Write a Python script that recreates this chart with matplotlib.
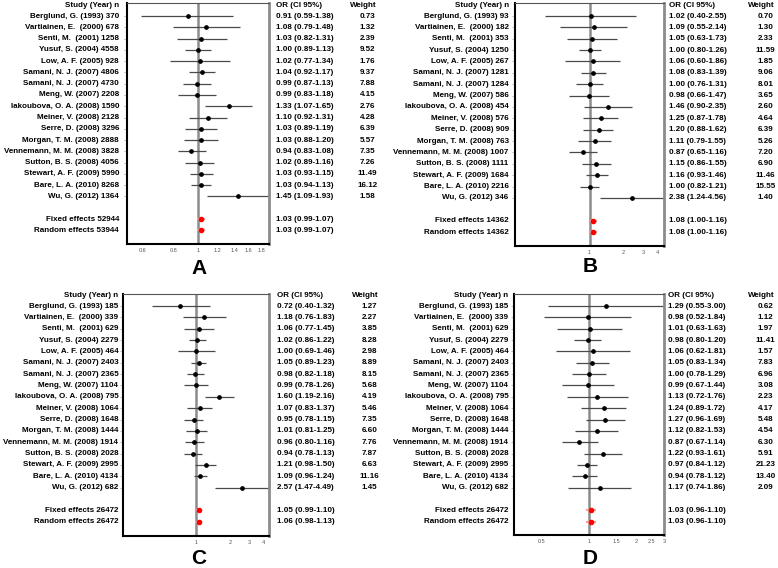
import matplotlib
matplotlib.use('Agg')
import matplotlib.pyplot as plt
import matplotlib.transforms as mtrans
import numpy as np

plt.rcParams['font.family'] = ['Liberation Sans', 'DejaVu Sans']

studies = ['Berglund, G. (1993)', 'Vartiainen, E.  (2000)', 'Senti, M.  (2001)',
           'Yusuf, S. (2004)', 'Low, A. F. (2005)', 'Samani, N. J. (2007)',
           'Samani, N. J. (2007)', 'Meng, W. (2007)', 'Iakoubova, O. A. (2008)',
           'Meiner, V. (2008)', 'Serre, D. (2008)', 'Morgan, T. M. (2008)',
           'Vennemann, M. M. (2008)', 'Sutton, B. S. (2008)', 'Stewart, A. F. (2009)',
           'Bare, L. A. (2010)', 'Wu, G. (2012)']

# panel A
n_a = [370, 678, 1258, 4558, 928, 4806, 4730, 2208, 1590, 2128, 3296, 2888, 3828, 4056, 5990, 8268, 1364]
or_a = [0.91, 1.08, 1.03, 1.00, 1.02, 1.04, 0.99, 0.99, 1.33, 1.10, 1.03, 1.03, 0.94, 1.02, 1.03, 1.03, 1.45]
lo_a = [0.59, 0.79, 0.82, 0.89, 0.77, 0.92, 0.87, 0.83, 1.07, 0.92, 0.89, 0.88, 0.83, 0.89, 0.93, 0.94, 1.09]
hi_a = [1.38, 1.48, 1.31, 1.13, 1.34, 1.17, 1.13, 1.18, 1.65, 1.31, 1.19, 1.20, 1.08, 1.16, 1.15, 1.13, 1.93]
w_a = [0.73, 1.32, 2.39, 9.52, 1.76, 9.37, 7.88, 4.15, 2.76, 4.28, 6.39, 5.57, 7.35, 7.26, 11.49, 16.12, 1.58]
pool_n_a = [52944, 53944]
pool_a = [(1.03, 0.99, 1.07), (1.03, 0.99, 1.07)]
ticks_a = [0.6, 0.8, 1, 1.2, 1.4, 1.6, 1.8]

# panel B
n_b = [93, 182, 353, 1250, 267, 1281, 1284, 586, 454, 576, 909, 763, 1007, 1111, 1684, 2216, 346]
or_b = [1.02, 1.09, 1.05, 1.00, 1.06, 1.08, 1.00, 0.98, 1.46, 1.25, 1.20, 1.11, 0.87, 1.15, 1.16, 1.00, 2.38]
lo_b = [0.40, 0.55, 0.63, 0.80, 0.60, 0.83, 0.76, 0.66, 0.90, 0.87, 0.88, 0.79, 0.65, 0.86, 0.93, 0.82, 1.24]
hi_b = [2.55, 2.14, 1.73, 1.26, 1.86, 1.39, 1.31, 1.47, 2.35, 1.78, 1.62, 1.55, 1.16, 1.55, 1.46, 1.21, 4.56]
w_b = [0.70, 1.30, 2.33, 11.59, 1.85, 9.06, 8.01, 3.65, 2.60, 4.64, 6.39, 5.26, 7.20, 6.90, 11.46, 15.55, 1.40]
pool_n_b = [14362, 14362]
pool_b = [(1.08, 1.00, 1.16), (1.08, 1.00, 1.16)]
ticks_b = [1, 2, 3, 4]

# panel C
n_c = [185, 339, 629, 2279, 464, 2403, 2365, 1104, 795, 1064, 1648, 1444, 1914, 2028, 2995, 4134, 682]
or_c = [0.72, 1.18, 1.06, 1.02, 1.00, 1.05, 0.98, 0.99, 1.60, 1.07, 0.95, 1.01, 0.96, 0.94, 1.21, 1.09, 2.57]
lo_c = [0.40, 0.76, 0.77, 0.86, 0.69, 0.89, 0.82, 0.78, 1.19, 0.83, 0.78, 0.81, 0.80, 0.78, 0.98, 0.96, 1.47]
hi_c = [1.32, 1.83, 1.45, 1.22, 1.46, 1.23, 1.18, 1.26, 2.16, 1.37, 1.15, 1.25, 1.16, 1.13, 1.50, 1.24, 4.49]
w_c = [1.27, 2.27, 3.85, 8.28, 2.98, 8.89, 8.15, 5.68, 4.19, 5.46, 7.35, 6.60, 7.76, 7.87, 6.63, 11.16, 1.45]
pool_n_c = [26472, 26472]
pool_c = [(1.05, 0.99, 1.10), (1.06, 0.98, 1.13)]
ticks_c = [1, 2, 3, 4]

# panel D
n_d = n_c
or_d = [1.29, 0.98, 1.01, 0.98, 1.06, 1.05, 1.00, 0.99, 1.13, 1.24, 1.27, 1.12, 0.87, 1.22, 0.97, 0.94, 1.17]
lo_d = [0.55, 0.52, 0.63, 0.80, 0.62, 0.83, 0.78, 0.67, 0.72, 0.89, 0.96, 0.82, 0.67, 0.93, 0.84, 0.78, 0.74]
hi_d = [3.00, 1.84, 1.63, 1.20, 1.81, 1.34, 1.29, 1.44, 1.76, 1.72, 1.69, 1.53, 1.14, 1.61, 1.12, 1.12, 1.86]
w_d = [0.62, 1.12, 1.97, 11.41, 1.57, 7.83, 6.96, 3.08, 2.23, 4.17, 5.48, 4.54, 6.30, 5.91, 21.23, 13.40, 2.09]
pool_n_d = [26472, 26472]
pool_d = [(1.03, 0.96, 1.10), (1.03, 0.96, 1.10)]
ticks_d = [0.5, 1, 1.5, 2, 2.5, 3]

W, H = 778, 568
fig = plt.figure(figsize=(W / 100, H / 100), dpi=100)

# box: left, right, top, bottom (px); first row y, row spacing; text columns; letter pos
panels = [
    ('A', n_a, or_a, lo_a, hi_a, w_a, pool_n_a, pool_a, ticks_a,
     (127, 269, 3, 244), (16, 11.28), (119, 276, 367.5), (199, 268)),
    ('B', n_b, or_b, lo_b, hi_b, w_b, pool_n_b, pool_b, ticks_b,
     (515.3, 664, 3, 246), (16, 11.37), (508.7, 669.3, 765.5), (590, 267)),
    ('C', n_c, or_c, lo_c, hi_c, w_c, pool_n_c, pool_c, ticks_c,
     (123.3, 269.3, 294, 536), (306, 11.35), (118.3, 277.3, 369.5), (199, 558)),
    ('D', n_d, or_d, lo_d, hi_d, w_d, pool_n_d, pool_d, ticks_d,
     (514, 664, 294, 535), (306, 11.35), (508.3, 667.7, 765.7), (590, 559)),
]

fs = 5.8
for letter, n, ors, lo, hi, w, pn, pool, ticks, box, rows, cols, lpos in panels:
    L, R, T, B = box
    ax = fig.add_axes([L / W, 1 - B / H, (R - L) / W, (B - T) / H])
    first, sp = rows
    ax.set_ylim(1 + (B - first) / sp, 1 + (T - first) / sp)
    ax.set_xscale('log')
    xmax = max(hi)
    ax.set_xlim(1 / xmax, xmax)

    ax.axvline(1, color='#8c8c8c', lw=1.8, zorder=1)
    y = np.arange(1, len(ors) + 1)
    ax.hlines(y, lo, hi, color='#4a4a4a', lw=0.9, zorder=2)
    ax.plot(ors, y, 'o', color='black', ms=2.4, zorder=3)
    py = [19, 20]
    ax.hlines(py, [p[1] for p in pool], [p[2] for p in pool], color='#f5a0a0', lw=1.6, zorder=2)
    ax.plot([p[0] for p in pool], py, 'o', color='red', ms=3, zorder=3)

    ax.set_xticks(ticks)
    ax.set_xticklabels([str(t) for t in ticks])
    ax.xaxis.set_minor_locator(matplotlib.ticker.NullLocator())
    ax.tick_params(axis='x', length=0, labelsize=4, labelcolor='#555555', pad=3)
    ax.set_yticks(list(y))
    ax.set_yticklabels([])
    ax.tick_params(axis='y', length=2, color='#999999', width=0.5)

    for s in ['left', 'bottom']:
        ax.spines[s].set_color('black')
        ax.spines[s].set_linewidth(1.5)
    ax.spines['top'].set_color('#555555')
    ax.spines['top'].set_linewidth(0.8)
    ax.spines['right'].set_color('#8c8c8c')
    ax.spines['right'].set_linewidth(2)

    tr = mtrans.blended_transform_factory(fig.transFigure, ax.transData)
    xl, xo, xw = cols[0] / W, cols[1] / W, cols[2] / W
    kw = dict(transform=tr, fontsize=fs, fontweight='bold', va='center', clip_on=False)
    ax.text(xl, 0.05, 'Study (Year) n', ha='right', **kw)
    ax.text(xo, 0.05, 'OR (CI 95%)', ha='left', **kw)
    ax.text(xw - 4 / W, 0.05, 'Weight', ha='center', **kw)
    for i in range(len(ors)):
        ax.text(xl, y[i], '%s %d' % (studies[i], n[i]), ha='right', **kw)
        ax.text(xo, y[i], '%.2f (%.2f-%.2f)' % (ors[i], lo[i], hi[i]), ha='left', **kw)
        ax.text(xw, y[i], '%.2f' % w[i], ha='center', **kw)
    for j, name in enumerate(['Fixed effects', 'Random effects']):
        ax.text(xl, py[j], '%s %d' % (name, pn[j]), ha='right', **kw)
        ax.text(xo, py[j], '%.2f (%.2f-%.2f)' % pool[j], ha='left', **kw)

    fig.text(lpos[0] / W, 1 - lpos[1] / H, letter, fontsize=15, fontweight='bold',
             ha='center', va='center')

fig.savefig('out.png', dpi=100)
